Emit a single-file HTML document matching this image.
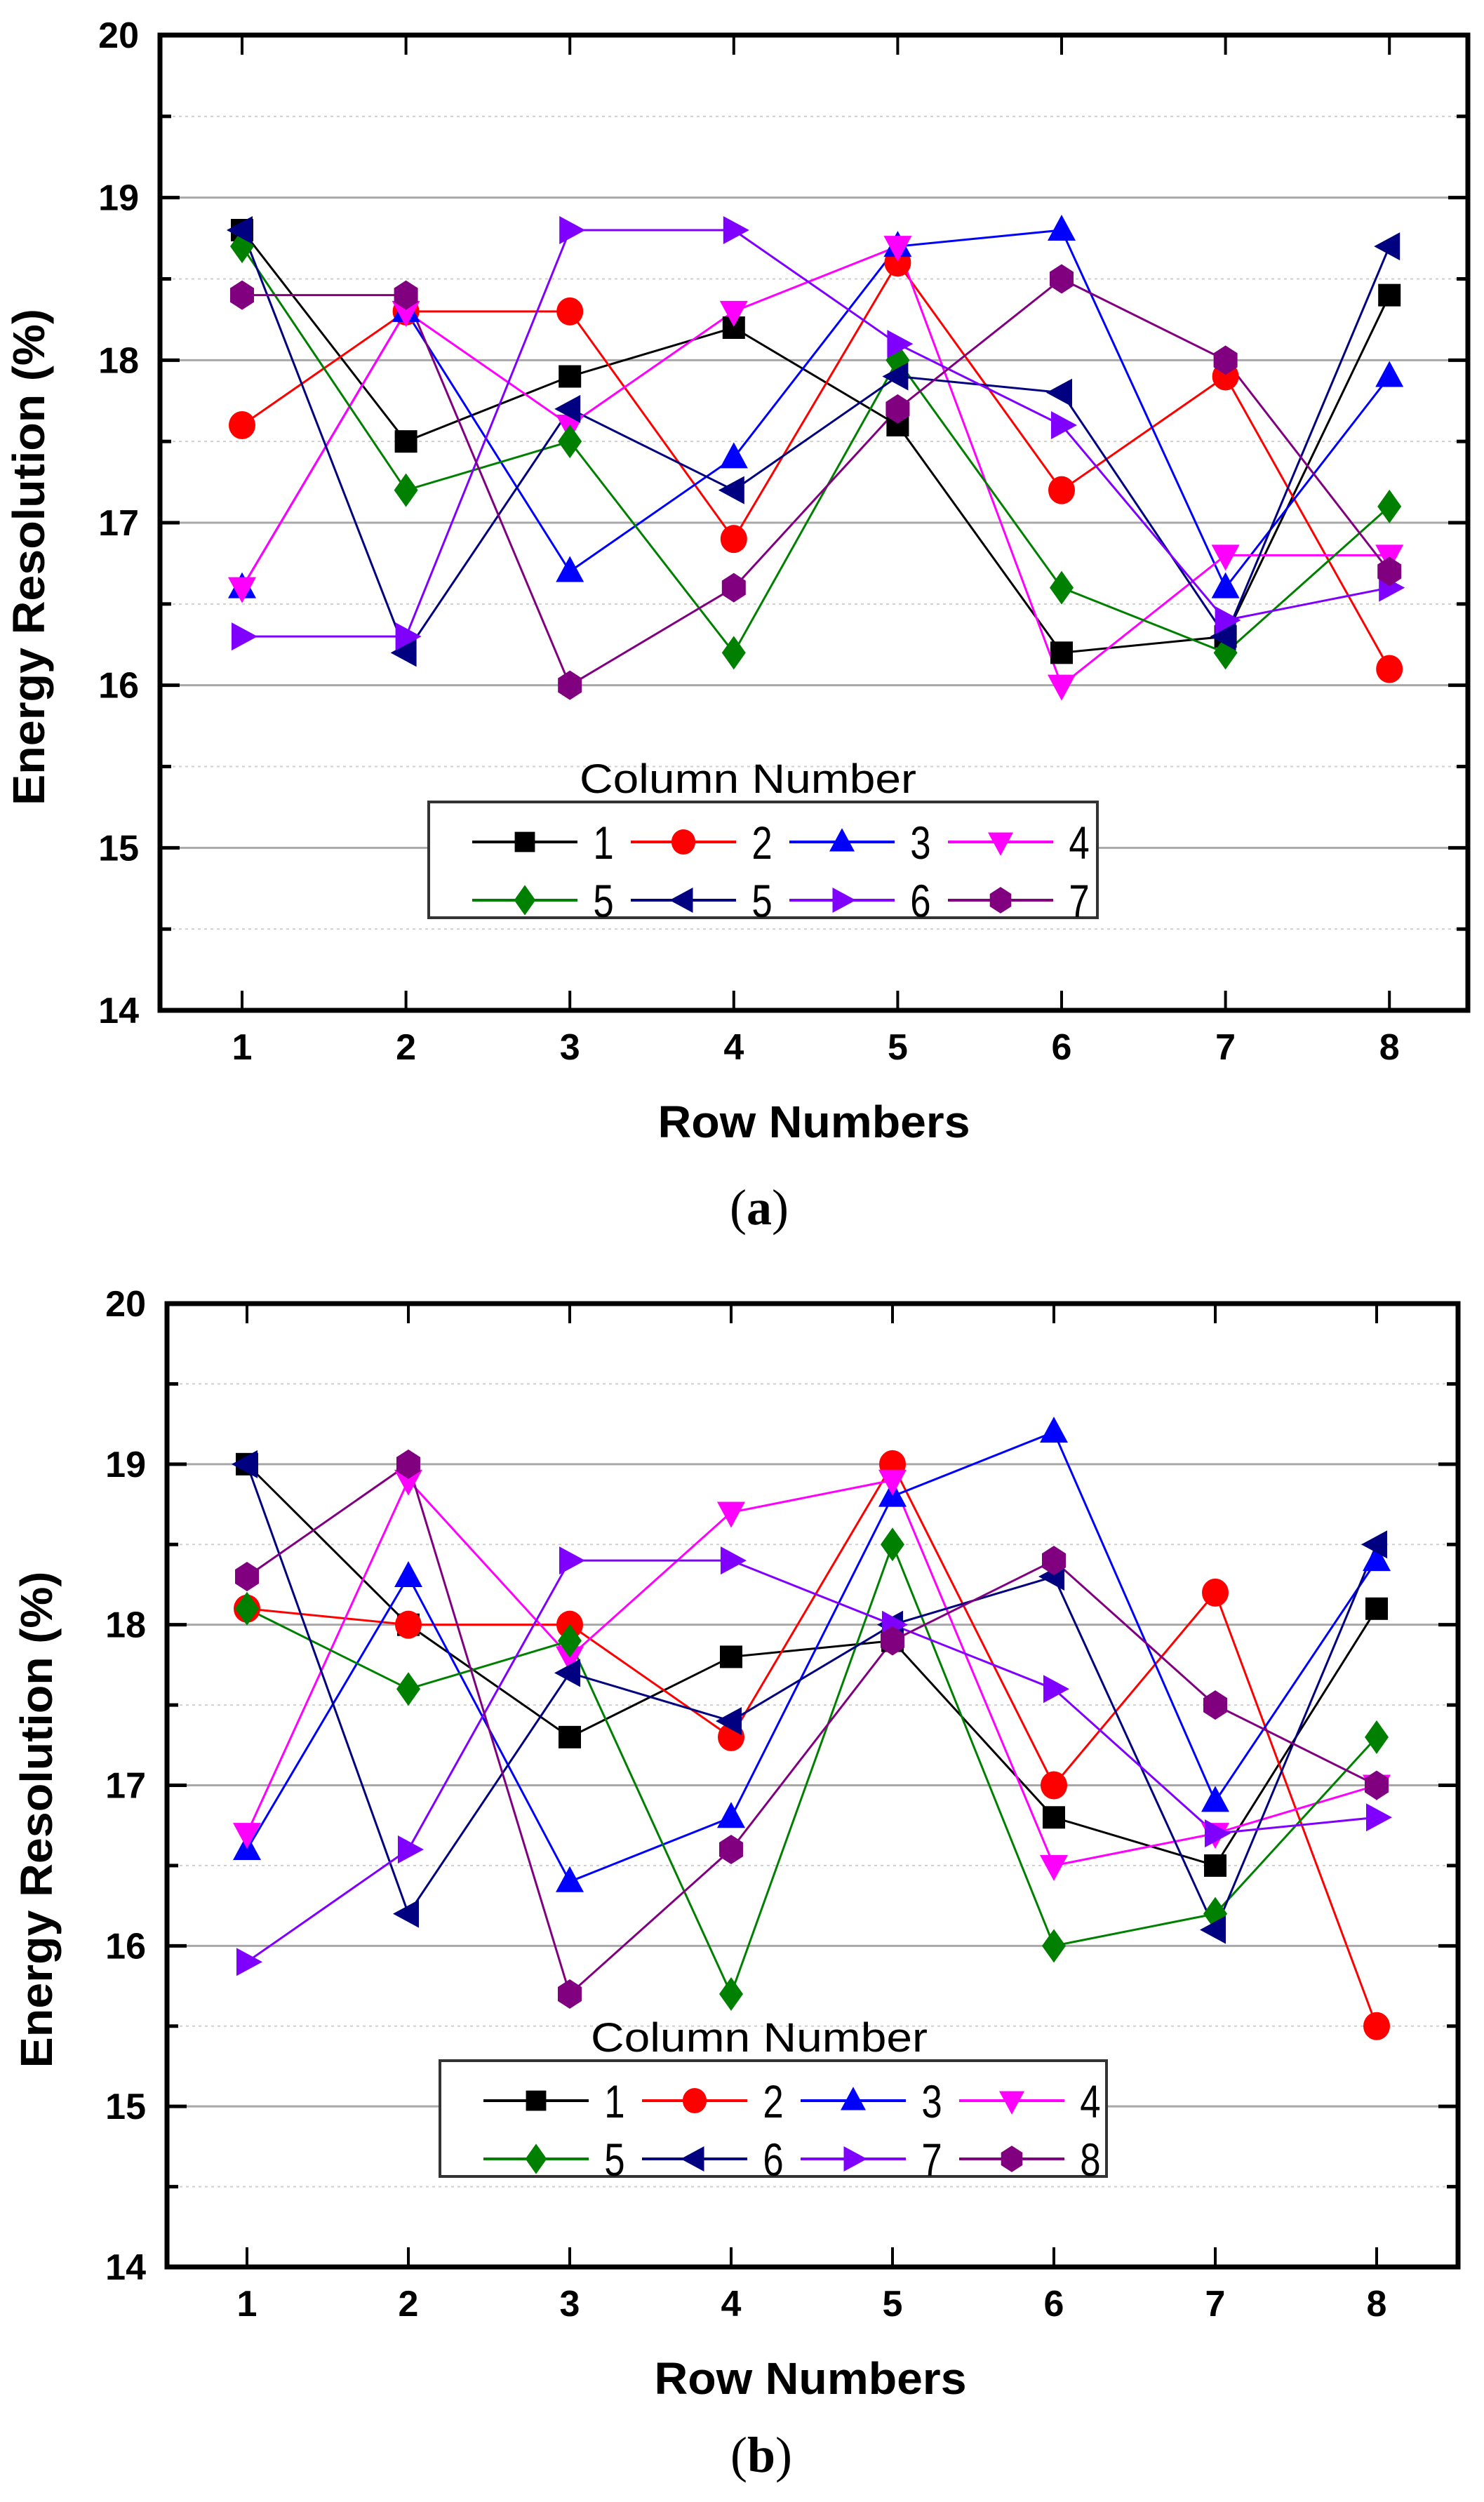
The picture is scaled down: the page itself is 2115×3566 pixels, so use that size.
<!DOCTYPE html>
<html><head><meta charset="utf-8"><style>
html,body{margin:0;padding:0;background:#fff;}
svg{display:block;}
text{font-family:"Liberation Sans",Arial,sans-serif;}
</style></head><body>
<svg id="root" width="2115" height="3566" viewBox="0 0 2115 3566" xmlns="http://www.w3.org/2000/svg">
<rect width="2115" height="3566" fill="#fff"/>
</svg>
<script>
// ---- data ----
const rowCategories = [1, 2, 3, 4, 5, 6, 7, 8];
const yTickLabels = [14, 15, 16, 17, 18, 19, 20];
const legendLabelsA = ["1", "2", "3", "4", "5", "5", "6", "7"];
const legendLabelsB = ["1", "2", "3", "4", "5", "6", "7", "8"];

const a_col1 = [18.8, 17.5, 17.9, 18.2, 17.6, 16.2, 16.3, 18.4];
const a_col2 = [17.6, 18.3, 18.3, 16.9, 18.6, 17.2, 17.9, 16.1];
const a_col3 = [16.6, 18.3, 16.7, 17.4, 18.7, 18.8, 16.6, 17.9];
const a_col4 = [16.6, 18.3, 17.6, 18.3, 18.7, 16.0, 16.8, 16.8];
const a_col5 = [18.7, 17.2, 17.5, 16.2, 18.0, 16.6, 16.2, 17.1];
const a_col5b = [18.8, 16.2, 17.7, 17.2, 17.9, 17.8, 16.3, 18.7];
const a_col6 = [16.3, 16.3, 18.8, 18.8, 18.1, 17.6, 16.4, 16.6];
const a_col7 = [18.4, 18.4, 16.0, 16.6, 17.7, 18.5, 18.0, 16.7];

const b_col1 = [19.0, 18.0, 17.3, 17.8, 17.9, 16.8, 16.5, 18.1];
const b_col2 = [18.1, 18.0, 18.0, 17.3, 19.0, 17.0, 18.2, 15.5];
const b_col3 = [16.6, 18.3, 16.4, 16.8, 18.8, 19.2, 16.9, 18.4];
const b_col4 = [16.7, 18.9, 17.8, 18.7, 18.9, 16.5, 16.7, 17.0];
const b_col5 = [18.1, 17.6, 17.9, 15.7, 18.5, 16.0, 16.2, 17.3];
const b_col6 = [19.0, 16.2, 17.7, 17.4, 18.0, 18.3, 16.1, 18.5];
const b_col7 = [15.9, 16.6, 18.4, 18.4, 18.0, 17.6, 16.7, 16.8];
const b_col8 = [18.3, 19.0, 15.7, 16.6, 17.9, 18.4, 17.5, 17.0];

const seriesA = [a_col1, a_col2, a_col3, a_col4, a_col5, a_col5b, a_col6, a_col7];
const seriesB = [b_col1, b_col2, b_col3, b_col4, b_col5, b_col6, b_col7, b_col8];

// ---- styles ----
const colors = ["#000000", "#ff0000", "#0000ff", "#ff00ff", "#008000", "#000080", "#8000ff", "#800080"];
const shapes = ["square", "circle", "up", "down", "diamond", "left", "right", "hex"];

const NS = "http://www.w3.org/2000/svg";
const root = document.getElementById("root");
function mk(tag, attrs, parent) {
  const e = document.createElementNS(NS, tag);
  for (const k in attrs) e.setAttribute(k, attrs[k]);
  (parent || root).appendChild(e);
  return e;
}

function marker(shape, cx, cy, s, color, parent) {
  let e;
  if (shape === "square") e = mk("rect", {x: cx - s * 0.8, y: cy - s * 0.8, width: s * 1.6, height: s * 1.6, fill: color}, parent);
  else if (shape === "circle") e = mk("ellipse", {cx: cx, cy: cy, rx: s * 0.95, ry: s, fill: color}, parent);
  else {
    let pts;
    if (shape === "up") pts = [[0, -s * 1.1], [s, s * 0.75], [-s, s * 0.75]];
    else if (shape === "down") pts = [[0, s * 1.1], [s, -s * 0.75], [-s, -s * 0.75]];
    else if (shape === "left") pts = [[-s * 1.1, 0], [s * 0.75, -s], [s * 0.75, s]];
    else if (shape === "right") pts = [[s * 1.1, 0], [-s * 0.75, -s], [-s * 0.75, s]];
    else if (shape === "diamond") pts = [[0, -s * 1.2], [s * 0.85, 0], [0, s * 1.2], [-s * 0.85, 0]];
    else pts = [[0, -s * 1.05], [s * 0.85, -s * 0.5], [s * 0.85, s * 0.5], [0, s * 1.05], [-s * 0.85, s * 0.5], [-s * 0.85, -s * 0.5]];
    e = mk("polygon", {points: pts.map(p => (cx + p[0]) + "," + (cy + p[1])).join(" "), fill: color}, parent);
  }
  return e;
}

function drawChart(cfg, series, labels, id) {
  const g = mk("g", {});
  
  
  const yMin = 14, yMax = 20;
  const yS = v => cfg.top + (yMax - v) / (yMax - yMin) * (cfg.bottom - cfg.top);
  const xS = c => cfg.x1 + (c - 1) * cfg.dx;

  for (let v = yMin; v <= yMax; v += 0.5) {
    const y = yS(v);
    if (v === yMin || v === yMax) continue;
    const major = Number.isInteger(v);
    const gl = mk("line", {x1: cfg.left, x2: cfg.right, y1: y, y2: y, stroke: major ? "#a8a8a8" : "#cfcfcf", "stroke-width": major ? 3 : 2, "stroke-dasharray": major ? "" : "4,5"}, g);
    
    
    const len = major ? 28 : 16;
    mk("line", {x1: cfg.left, x2: cfg.left + len, y1: y, y2: y, stroke: "#000", "stroke-width": 5}, g);
    mk("line", {x1: cfg.right, x2: cfg.right - len, y1: y, y2: y, stroke: "#000", "stroke-width": 5}, g);
  }
  yTickLabels.forEach(v => {
    const t = mk("text", {x: cfg.left - 30, y: yS(v) + 18, "text-anchor": "end", "font-size": 52, "font-weight": "bold"}, g);
    t.textContent = v;
    
    
  });
  rowCategories.forEach(c => {
    const x = xS(c);
    mk("line", {x1: x, x2: x, y1: cfg.bottom, y2: cfg.bottom - 28, stroke: "#000", "stroke-width": 4}, g);
    mk("line", {x1: x, x2: x, y1: cfg.top, y2: cfg.top + 28, stroke: "#000", "stroke-width": 4}, g);
    const t = mk("text", {x: x, y: cfg.bottom + 70, "text-anchor": "middle", "font-size": 52, "font-weight": "bold"}, g);
    t.textContent = c;
    
    
  });
  const fr = mk("rect", {x: cfg.left, y: cfg.top, width: cfg.right - cfg.left, height: cfg.bottom - cfg.top, fill: "none", stroke: "#000", "stroke-width": 7}, g);
  
  

  series.forEach((vals, i) => {
    const pts = vals.map((v, j) => xS(rowCategories[j]) + "," + yS(v)).join(" ");
    const pl = mk("polyline", {points: pts, fill: "none", stroke: colors[i], "stroke-width": 3}, g);
    
    
  });
  series.forEach((vals, i) => {
    vals.forEach((v, j) => {
      const m = marker(shapes[i], xS(rowCategories[j]), yS(v), 20, colors[i], g);
      
      
    });
  });

  const lg = mk("g", {}, g);
  
  
  const lt = mk("text", {x: cfg.legX + 455, y: cfg.legTop - 13, "text-anchor": "middle", "font-size": 58, textLength: 480, lengthAdjust: "spacingAndGlyphs"}, lg);
  lt.textContent = "Column Number";
  
  
  const lb = mk("rect", {x: cfg.legX, y: cfg.legTop, width: cfg.legW, height: 165, fill: "#fff", stroke: "#333", "stroke-width": 4}, lg);
  
  
  labels.forEach((lab, i) => {
    const col = i % 4, row = Math.floor(i / 4);
    const x0 = cfg.legX + 62 + col * 226;
    const y0 = cfg.legTop + 57 + row * 83;
    const eg = mk("g", {}, lg);
    
    
    mk("line", {x1: x0, x2: x0 + 150, y1: y0, y2: y0, stroke: colors[i], "stroke-width": 4}, eg);
    marker(shapes[i], x0 + 75, y0, 18, colors[i], eg);
    const tt = mk("text", {x: x0 + 187, y: y0 + 24, "text-anchor": "middle", "font-size": 66, transform: "translate(" + (x0 + 187) + ",0) scale(0.8,1) translate(" + (-(x0 + 187)) + ",0)"}, eg);
    tt.textContent = lab;
  });

  const xt = mk("text", {x: cfg.xTitleX, y: cfg.bottom + 181, "text-anchor": "middle", "font-size": 64, "font-weight": "bold", textLength: 445, lengthAdjust: "spacingAndGlyphs"}, g);
  xt.textContent = "Row Numbers";
  
  
  const yc = (cfg.top + cfg.bottom) / 2 + 49;
  const yt = mk("text", {x: 0, y: 0, "text-anchor": "middle", "font-size": 64, "font-weight": "bold", textLength: 708, lengthAdjust: "spacingAndGlyphs", transform: "translate(" + (cfg.yTitleX + 22) + "," + yc + ") rotate(-90)"}, g);
  yt.textContent = "Energy Resolution (%)";
  
  
  const pl = mk("text", {x: cfg.panelX, y: cfg.bottom + cfg.panelDy, "text-anchor": "middle", "font-size": 72, style: "font-family:'Liberation Serif',serif"}, g);
  pl.innerHTML = "(<tspan font-weight='bold'>" + id + "</tspan>)";
  
  
}

const cfgA = {left: 228, right: 2092, top: 50, bottom: 1440, x1: 345, dx: 233.6, legX: 611, legTop: 1143, legW: 953, xTitleX: 1160, yTitleX: 41, panelX: 1082, panelDy: 305};
const cfgB = {left: 238, right: 2078, top: 1858, bottom: 3231, x1: 352, dx: 230, legX: 627, legTop: 2937, legW: 950, xTitleX: 1155, yTitleX: 52, panelX: 1085, panelDy: 292};
drawChart(cfgA, seriesA, legendLabelsA, "a");
drawChart(cfgB, seriesB, legendLabelsB, "b");
</script>
</body></html>
